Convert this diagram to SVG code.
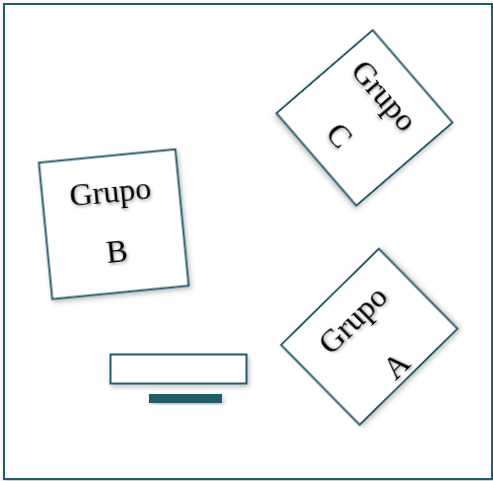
<svg xmlns="http://www.w3.org/2000/svg" width="493" height="481" viewBox="0 0 493 481">
<defs>
<filter id="sh" x="-20%" y="-20%" width="140%" height="140%">
<feDropShadow dx="1.5" dy="2.5" stdDeviation="2.5" flood-color="#000" flood-opacity="0.25"/>
</filter>
<filter id="tsh" x="-20%" y="-20%" width="140%" height="140%">
<feDropShadow dx="1" dy="2" stdDeviation="1.5" flood-color="#000" flood-opacity="0.35"/>
</filter>
<style>
.box{fill:#fff;stroke:#245b6b;stroke-width:2;filter:url(#sh)}
.lbl{font-family:"Liberation Serif","Times New Roman",serif;font-size:32px;fill:#000;text-anchor:middle;filter:url(#tsh)}
</style>
</defs>
<rect x="0" y="0" width="493" height="481" fill="#fff"/>
<rect id="frame" x="4" y="4" width="488" height="475" fill="#fff" stroke="#245b6b" stroke-width="2" filter="url(#sh)"/>
<g id="grupoC" transform="translate(364.5,117.9) rotate(49.2)">
<rect class="box" x="-61" y="-63.5" width="122" height="127"/>
<text class="lbl" x="-4" y="-19">Grupo</text>
<text class="lbl" x="-3" y="41">C</text>
</g>
<g id="grupoB" transform="translate(113.8,224.2) rotate(-5.6)">
<rect class="box" x="-68.5" y="-68.5" width="137" height="137"/>
<text class="lbl" x="-0.5" y="-22">Grupo</text>
<text class="lbl" x="0.5" y="38">B</text>
</g>
<g id="grupoA" transform="translate(369.25,336.8) rotate(-44.5)">
<rect class="box" x="-68.5" y="-56" width="137" height="112"/>
<text class="lbl" x="0" y="-13">Grupo</text>
<text class="lbl" x="-1" y="50">A</text>
</g>
<g id="mesa">
<rect class="box" x="110.5" y="354.5" width="136" height="29"/>
<rect x="149" y="394" width="73" height="9" fill="#235c68" filter="url(#sh)"/>
</g>
<g id="connectors"/>
</svg>
